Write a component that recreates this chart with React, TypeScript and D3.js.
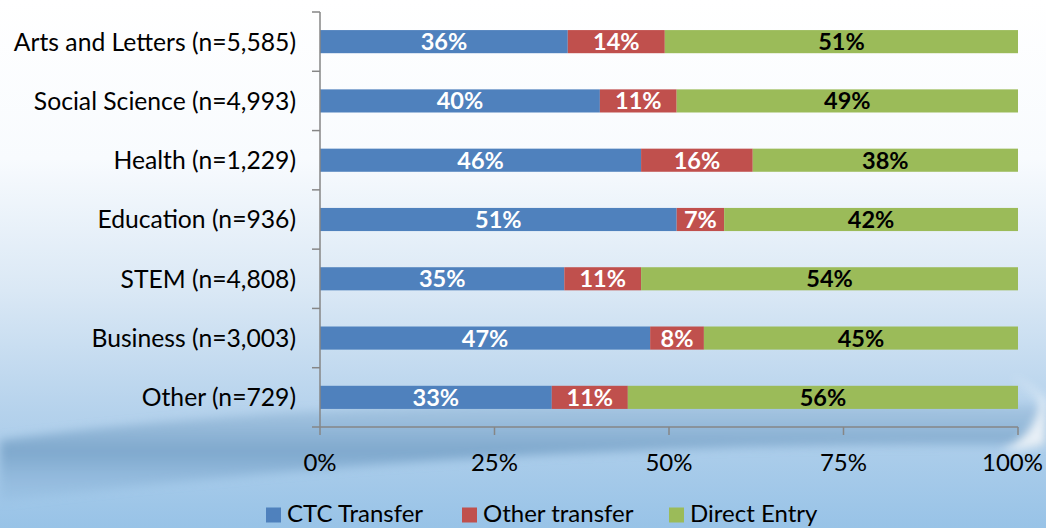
import { useEffect, useRef } from 'react';
import * as d3 from 'd3';

const categories = [
  'Arts and Letters (n=5,585)',
  'Social Science (n=4,993)',
  'Health (n=1,229)',
  'Education (n=936)',
  'STEM (n=4,808)',
  'Business (n=3,003)',
  'Other (n=729)',
];
const ctcTransfer = [35.5, 40.1, 46.0, 51.1, 35.0, 47.3, 33.2];
const otherTransfer = [13.9, 11.0, 16.0, 6.8, 11.0, 7.7, 10.9];
const directEntry = [50.6, 48.9, 38.0, 42.1, 54.0, 45.0, 55.9];
const seriesNames = ['CTC Transfer', 'Other transfer', 'Direct Entry'];
const seriesColors = ['#4f81bd', '#c0504d', '#9bbb59'];
const labelColors = ['#ffffff', '#ffffff', '#000000'];
const xTicks = [0, 25, 50, 75, 100];

const W = 1046;
const H = 528;
const FONT = 'Lato, "Open Sans", sans-serif';

const App = () => {
  const svgRef = useRef<SVGSVGElement>(null);

  useEffect(() => {
    const svg = d3.select(svgRef.current);
    svg.selectAll('*').remove();

    // background
    const defs = svg.append('defs');
    const bg = defs
      .append('linearGradient')
      .attr('id', 'bg')
      .attr('x1', 0)
      .attr('y1', 0)
      .attr('x2', 0)
      .attr('y2', 1);
    bg.append('stop').attr('offset', '0%').attr('stop-color', '#ffffff');
    bg.append('stop').attr('offset', '30%').attr('stop-color', '#f8fbfe');
    bg.append('stop').attr('offset', '55%').attr('stop-color', '#dae8f5');
    bg.append('stop').attr('offset', '78%').attr('stop-color', '#b5d2ec');
    bg.append('stop').attr('offset', '100%').attr('stop-color', '#98c3e7');
    const sw = defs
      .append('linearGradient')
      .attr('id', 'swoosh')
      .attr('x1', 0)
      .attr('y1', 0)
      .attr('x2', 0)
      .attr('y2', 1);
    sw.append('stop').attr('offset', '0%').attr('stop-color', '#8fb3d3').attr('stop-opacity', 0.35);
    sw.append('stop').attr('offset', '50%').attr('stop-color', '#76a1c7').attr('stop-opacity', 0.85);
    sw.append('stop').attr('offset', '100%').attr('stop-color', '#8fb7dc').attr('stop-opacity', 0.25);
    const blur = defs.append('filter').attr('id', 'blur').attr('x', '-10%').attr('y', '-50%').attr('width', '120%').attr('height', '200%');
    blur.append('feGaussianBlur').attr('stdDeviation', 5);

    svg.append('rect').attr('width', W).attr('height', H).attr('fill', 'url(#bg)');
    svg
      .append('path')
      .attr('d', 'M0,440 C250,405 600,395 1046,405 L1046,445 C650,440 300,465 0,502 Z')
      .attr('fill', 'url(#swoosh)')
      .attr('filter', 'url(#blur)');
    svg
      .append('path')
      .attr('d', 'M1010,375 C1030,385 1040,395 1046,400 L1046,445 C1035,448 1020,450 1000,452 C1025,440 1040,420 1040,400 C1035,392 1022,383 1010,375 Z')
      .attr('fill', '#ffffff')
      .attr('opacity', 0.8)
      .attr('filter', 'url(#blur)');

    const margin = { left: 320, right: 28, top: 12, bottom: 101 };
    const x = d3.scaleLinear().domain([0, 100]).range([margin.left, W - margin.right]);
    const y = d3
      .scaleBand()
      .domain(categories)
      .range([margin.top, H - margin.bottom])
      .paddingInner(0.61)
      .paddingOuter(0.305);

    const table = categories.map((c, i) => ({
      category: c,
      'CTC Transfer': ctcTransfer[i],
      'Other transfer': otherTransfer[i],
      'Direct Entry': directEntry[i],
    }));
    const layers = d3.stack<any>().keys(seriesNames)(table);

    const g = svg.append('g');
    layers.forEach((layer, li) => {
      g.append('g')
        .selectAll('rect')
        .data(layer)
        .join('rect')
        .attr('x', (d) => x(d[0]))
        .attr('y', (d) => y(d.data.category)!)
        .attr('width', (d) => x(d[1]) - x(d[0]))
        .attr('height', y.bandwidth())
        .attr('fill', seriesColors[li]);
      g.append('g')
        .selectAll('text')
        .data(layer)
        .join('text')
        .attr('x', (d) => (x(d[0]) + x(d[1])) / 2)
        .attr('y', (d) => y(d.data.category)! + y.bandwidth() / 2)
        .attr('dy', '0.36em')
        .attr('text-anchor', 'middle')
        .attr('font-family', FONT)
        .attr('font-weight', 'bold')
        .attr('font-size', 23.5)
        .attr('fill', labelColors[li])
        .text((d) => `${Math.round(d[1] - d[0])}%`);
    });

    // y axis: ticks at band boundaries
    const step = y.step();
    const bounds = d3.range(categories.length + 1).map((i) => margin.top + i * step);
    const axisColor = '#868686';
    svg
      .append('line')
      .attr('x1', margin.left)
      .attr('x2', margin.left)
      .attr('y1', margin.top)
      .attr('y2', H - margin.bottom)
      .attr('stroke', axisColor)
      .attr('stroke-width', 1.5);
    svg
      .append('g')
      .selectAll('line')
      .data(bounds)
      .join('line')
      .attr('x1', margin.left - 8)
      .attr('x2', margin.left)
      .attr('y1', (d) => d)
      .attr('y2', (d) => d)
      .attr('stroke', axisColor)
      .attr('stroke-width', 1.5);
    svg
      .append('g')
      .selectAll('text')
      .data(categories)
      .join('text')
      .attr('x', margin.left - 24)
      .attr('y', (d) => y(d)! + y.bandwidth() / 2)
      .attr('dy', '0.36em')
      .attr('text-anchor', 'end')
      .attr('font-family', FONT)
      .attr('font-size', 24.7)
      .attr('fill', '#000')
      .text((d) => d);

    // x axis
    const xAxisY = H - margin.bottom;
    svg
      .append('line')
      .attr('x1', margin.left)
      .attr('x2', W - margin.right)
      .attr('y1', xAxisY)
      .attr('y2', xAxisY)
      .attr('stroke', axisColor)
      .attr('stroke-width', 1.5);
    svg
      .append('g')
      .selectAll('line')
      .data(xTicks)
      .join('line')
      .attr('x1', (d) => x(d))
      .attr('x2', (d) => x(d))
      .attr('y1', xAxisY)
      .attr('y2', xAxisY + 8)
      .attr('stroke', axisColor)
      .attr('stroke-width', 1.5);
    const tickLabels = svg
      .append('g')
      .selectAll('text')
      .data(xTicks)
      .join('text')
      .attr('y', 462)
      .attr('dy', '0.36em')
      .attr('text-anchor', 'middle')
      .attr('font-family', FONT)
      .attr('font-size', 24)
      .attr('fill', '#000')
      .text((d) => `${d}%`);
    // keep the last label inside the picture
    tickLabels.attr('x', function (d) {
      const half = (this as SVGTextElement).getComputedTextLength() / 2;
      return Math.min(x(d), W - 3 - half);
    });

    // legend
    const legendX = [266, 462, 669];
    const legend = svg
      .append('g')
      .selectAll('g')
      .data(seriesNames)
      .join('g')
      .attr('transform', (_, i) => `translate(${legendX[i]},514)`);
    legend
      .append('rect')
      .attr('x', 0)
      .attr('y', -6.5)
      .attr('width', 15)
      .attr('height', 15)
      .attr('fill', (_, i) => seriesColors[i]);
    legend
      .append('text')
      .attr('x', 21)
      .attr('dy', '0.34em')
      .attr('font-family', FONT)
      .attr('font-size', 24)
      .attr('fill', '#000')
      .text((d) => d);
  }, []);

  return (
    <div style={{ position: 'fixed', left: 0, top: 0, width: W, height: H }}>
      <svg ref={svgRef} width={W} height={H} style={{ display: 'block' }} />
    </div>
  );
};

export default App;
